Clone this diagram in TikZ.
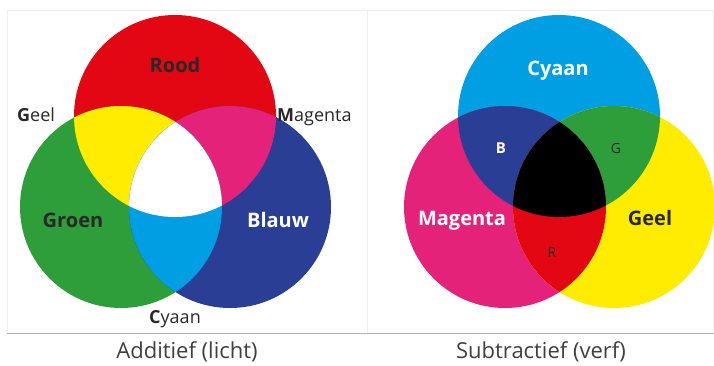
\documentclass[tikz,border=0pt]{standalone}
\usepackage{fontspec}
\setmainfont{Open Sans}
\usepackage{tikz}
\usepackage{xcolor}
\definecolor{rood}{RGB}{227,6,19}
\definecolor{groen}{RGB}{46,158,58}
\definecolor{blauw}{RGB}{42,62,150}
\definecolor{geel}{RGB}{255,236,0}
\definecolor{magenta}{RGB}{229,34,122}
\definecolor{cyaan}{RGB}{0,159,227}
\definecolor{tekstgrijs}{RGB}{40,40,40}

\begin{document}
\begin{tikzpicture}[x=1pt,y=-1pt,
		naam/.style={anchor=base,font=\bfseries\fontsize{20}{20}\selectfont},
		rand/.style={anchor=base west,inner sep=0pt,text=tekstgrijs,font=\fontsize{18}{18}\selectfont},
		titel/.style={anchor=base,text=black!75,font=\fontsize{22}{22}\selectfont}]
			\useasboundingbox (0,0) rectangle (714,365);
			\fill[white] (0,0) rectangle (714,365);
			% kaders
			\draw[black!6] (7,333) -- (7,10) -- (713,10) -- (713,333);
			\draw[black!6] (367,10) -- (367,333);
			\draw[black!30] (7,333) -- (714,333);
			% middelpunten van de cirkels
			\coordinate (R) at (175,116);
			\coordinate (G) at (121,207);
			\coordinate (B) at (230,207);
			\coordinate (C) at (559,116);
			\coordinate (M) at (505,207);
			\coordinate (Y) at (614,207);
			\foreach \Plek/\Kleur in {R/rood,G/groen,B/blauw,C/cyaan,M/magenta,Y/geel}
				\fill[\Kleur] (\Plek) circle (101);
			% overlappingen
			\foreach \Een/\Twee/\Kleur in {R/G/geel,R/B/magenta,G/B/cyaan,C/M/blauw,C/Y/groen,M/Y/rood}
				{
				\begin{scope}
					\clip (\Een) circle (101);
					\fill[\Kleur] (\Twee) circle (101);
				\end{scope}
				}
			\begin{scope}
				\clip (R) circle (101);
				\clip (G) circle (101);
				\fill[white] (B) circle (101);
			\end{scope}
			\begin{scope}
				\clip (C) circle (101);
				\clip (M) circle (101);
				\fill[black] (Y) circle (101);
			\end{scope}
			% additief
			\node[naam,text=tekstgrijs] (rood) at (175,72) {Rood};
			\node[naam,text=tekstgrijs] (groen) at (73,227) {Groen};
			\node[naam,text=white] (blauw) at (278,227) {Blauw};
			\node[rand] (geelA) at (17,121) {{\bfseries G}eel};
			\node[rand] (magentaA) at (277,121) {{\bfseries M}agenta};
			\node[rand,anchor=base] (cyaanA) at (175,323) {{\bfseries C}yaan};
			\node[titel] (additief) at (187,358) {Additief (licht)};
			% subtractief
			\node[naam,text=white] (cyaan) at (558,75) {Cyaan};
			\node[naam,text=white] (magenta) at (462,225) {Magenta};
			\node[naam,text=tekstgrijs] (geel) at (650,225) {Geel};
			\node[naam,text=white,font=\bfseries\fontsize{15}{15}\selectfont] (b) at (501,153) {B};
			\node[naam,text=tekstgrijs,font=\fontsize{14}{14}\selectfont] (g) at (616,153) {G};
			\node[naam,text=tekstgrijs,font=\fontsize{14}{14}\selectfont] (r) at (552,257) {R};
			\node[titel] (subtractief) at (541,358) {Subtractief (verf)};
		\end{tikzpicture}
\end{document}
